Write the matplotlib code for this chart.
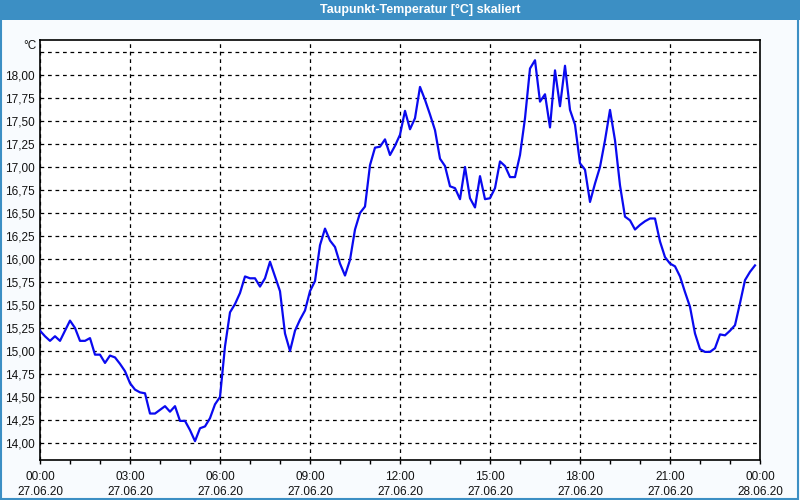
import matplotlib
matplotlib.use("Agg")
import matplotlib.pyplot as plt
import matplotlib.patches as mpatches
import pandas as pd

plt.rcParams['font.family'] = ['Liberation Sans', 'DejaVu Sans']

title = "Taupunkt-Temperatur [°C] skaliert"
unit = "°C"

# 10-minute readings, 27.06.20 00:00 .. 23:50
times = pd.date_range("2020-06-27 00:00", periods=144, freq="10min")
values = [
    15.22, 15.16, 15.11, 15.16, 15.11, 15.22, 15.33, 15.25, 15.11, 15.11,
    15.14, 14.96, 14.96, 14.87, 14.95, 14.93, 14.86, 14.78, 14.65, 14.58,
    14.55, 14.54, 14.32, 14.32, 14.36, 14.40, 14.34, 14.40, 14.24, 14.24,
    14.14, 14.02, 14.16, 14.18, 14.27, 14.42, 14.50, 15.05, 15.42, 15.51,
    15.63, 15.81, 15.79, 15.79, 15.70, 15.79, 15.97, 15.81, 15.65, 15.19,
    15.00, 15.22, 15.34, 15.44, 15.65, 15.76, 16.15, 16.33, 16.20, 16.13,
    15.95, 15.82, 15.99, 16.32, 16.50, 16.57, 17.02, 17.21, 17.22, 17.30,
    17.13, 17.23, 17.35, 17.61, 17.41, 17.53, 17.87, 17.73, 17.57, 17.40,
    17.09, 17.01, 16.79, 16.77, 16.65, 17.00, 16.66, 16.56, 16.90, 16.65,
    16.66, 16.77, 17.06, 17.01, 16.89, 16.89, 17.13, 17.53, 18.07, 18.16,
    17.71, 17.79, 17.43, 18.05, 17.66, 18.10, 17.62, 17.46, 17.04, 16.97,
    16.62, 16.82, 17.00, 17.29, 17.62, 17.29, 16.80, 16.46, 16.42, 16.32,
    16.37, 16.41, 16.44, 16.44, 16.19, 16.02, 15.95, 15.92, 15.81, 15.64,
    15.48, 15.19, 15.02, 14.99, 14.99, 15.03, 15.18, 15.17, 15.22, 15.28,
    15.52, 15.77, 15.86, 15.93,
]

y_ticks = [14.00, 14.25, 14.50, 14.75, 15.00, 15.25, 15.50, 15.75, 16.00,
           16.25, 16.50, 16.75, 17.00, 17.25, 17.50, 17.75, 18.00, 18.25]
x_major = pd.date_range("2020-06-27 00:00", "2020-06-28 00:00", freq="3h")
x_minor = pd.date_range("2020-06-27 00:00", "2020-06-28 00:00", freq="1h")

fig = plt.figure(figsize=(8, 5), dpi=100)
fig.patch.set_facecolor('#F8FBFE')

# title bar
fig.add_artist(mpatches.Rectangle((0, 1 - 20/500), 1, 20/500, transform=fig.transFigure,
                                  facecolor='#3C8FC4', edgecolor='none', zorder=0))
fig.text(420/800, 1 - 10/500, title, color='white', fontsize=9, fontweight='bold',
         ha='center', va='center')
# window border
fig.add_artist(mpatches.Rectangle((0.001, 0.002), 0.997, 0.996, transform=fig.transFigure,
                                  facecolor='none', edgecolor='#3C8FC4', linewidth=1.5, zorder=0))

ax = fig.add_axes([40/800, 40/500, 720/800, 420/500])
ax.set_facecolor('white')
ax.plot(times, values, color='#0A0AF0', linewidth=1.6, zorder=3)

ax.set_xlim(pd.Timestamp("2020-06-27 00:00"), pd.Timestamp("2020-06-28 00:00"))
ax.set_ylim(13.815, 18.380)

ax.set_yticks(y_ticks)
ax.set_yticklabels([f"{v:.2f}".replace('.', ',') if v <= 18.0 else "" for v in y_ticks])
ax.tick_params(axis='y', length=0, pad=4, labelsize=8.5, labelcolor='#111111')

ax.set_xticks(x_major)
ax.set_xticklabels([f"{t:%H:%M}\n{t:%d.%m.%y}" for t in x_major], linespacing=1.3)
ax.set_xticks(x_minor, minor=True)
ax.tick_params(axis='x', which='both', direction='out', length=3, width=1,
               pad=5, labelsize=8.5, labelcolor='#111111')

ax.grid(True, which='major', color='black', linestyle=(0, (3, 3)), linewidth=0.9)

for s in ax.spines.values():
    s.set_color('black')
    s.set_linewidth(1.2)

ax.text(-0.005, 1 - 6/420, unit, transform=ax.transAxes, ha='right', va='center',
        fontsize=8.5, color='#111111')

fig.savefig("out.png", dpi=100, facecolor=fig.get_facecolor())
